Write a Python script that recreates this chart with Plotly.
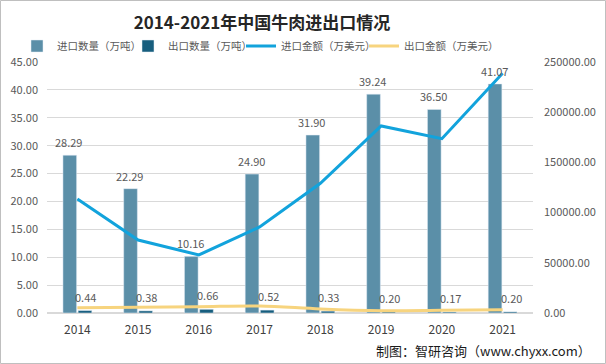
import plotly.graph_objects as go

years = ["2014", "2015", "2016", "2017", "2018", "2019", "2020", "2021"]
import_qty = [28.29, 22.29, 10.16, 24.90, 31.90, 39.24, 36.50, 41.07]
export_qty = [0.44, 0.38, 0.66, 0.52, 0.33, 0.20, 0.17, 0.20]
import_amt = [113500, 72700, 57800, 85700, 129200, 186300, 173600, 238700]
export_amt = [5300, 5700, 6300, 7000, 4000, 2300, 2700, 3300]

FONT = "Noto Sans CJK SC, Noto Sans, sans-serif"
LABEL = "#595959"

fig = go.Figure()
fig.add_bar(x=years, y=import_qty, name="进口数量（万吨）", marker_color="#5b8fa8",
            legend="legend", showlegend=True)
fig.add_bar(x=years, y=export_qty, name="出口数量（万吨）", marker_color="#175e7e",
            legend="legend2", showlegend=True)
fig.add_scatter(x=years, y=import_amt, name="进口金额（万美元）", yaxis="y2", mode="lines",
                line=dict(color="#12a3dc", width=3), legend="legend3", showlegend=True)
fig.add_scatter(x=years, y=export_amt, name="出口金额（万美元）", yaxis="y2", mode="lines",
                line=dict(color="#f7d47e", width=3, shape="spline"), legend="legend4",
                showlegend=True)

# data labels (category index positions)
for i, v in enumerate(import_qty):
    fig.add_annotation(x=i, y=v, xref="x", yref="y", text=f"{v:.2f}", showarrow=False,
                       xshift=-8.5, yshift=13, yanchor="middle",
                       font=dict(size=11, color=LABEL, family=FONT))
for i, v in enumerate(export_qty):
    fig.add_annotation(x=i, y=v, xref="x", yref="y", text=f"{v:.2f}", showarrow=False,
                       xshift=8.5, yshift=14, yanchor="middle",
                       font=dict(size=11, color=LABEL, family=FONT))

def leg(px):
    return dict(orientation="h", x=px/606, xanchor="left", xref="container",
                y=1 - 46/364, yanchor="middle", yref="container",
                font=dict(size=10.5, color=LABEL, family=FONT), itemwidth=30,
                bgcolor="rgba(0,0,0,0)", visible=True)

fig.update_layout(
    width=606, height=364, showlegend=True,
    margin=dict(l=47, r=73, t=62, b=51, autoexpand=False),
    paper_bgcolor="white", plot_bgcolor="white",
    font=dict(family=FONT, size=12, color=LABEL),
    title=dict(text="<b>2014-2021年中国牛肉进出口情况</b>", x=262/606, xanchor="center",
               xref="container", y=1 - 23/364, yanchor="middle", yref="container",
               font=dict(size=17, color="#262626", family=FONT)),
    barmode="group", bargap=0.5, bargroupgap=0.1,
    legend=leg(17), legend2=leg(128), legend3=leg(241), legend4=leg(364),
    xaxis=dict(type="category", range=[-0.5, 7.5], showgrid=False,
               tickfont=dict(size=12, color="#404040"), ticks="", showline=False,
               ticklabelstandoff=8),
    yaxis=dict(range=[0, 45], dtick=5, tickformat=".2f", showgrid=True, gridcolor="#d9d9d9",
               zeroline=True, zerolinecolor="#d9d9d9", tickfont=dict(size=11, color=LABEL),
               ticks="", ticklabelstandoff=8),
    yaxis2=dict(range=[0, 250000], dtick=50000, tickformat=".2f", overlaying="y", side="right",
                showgrid=False, zeroline=False, tickfont=dict(size=11, color=LABEL),
                ticks="", ticklabelstandoff=10),
)
fig.update_layout(shapes=[dict(type="rect", xref="x domain", yref="y domain",
                               x0=-46.5/486, x1=1+72.5/486, y0=-50.5/251, y1=1+61.5/251,
                               line=dict(color="#bfbfbf", width=1))])
fig.add_annotation(text="制图：智研咨询（www.chyxx.com）", xref="paper", yref="paper",
                   x=1 + 60/486, xanchor="right", y=-37/251, yanchor="middle", showarrow=False,
                   font=dict(size=13, color="#1a1a1a", family=FONT))

fig.write_html("out.html", config={"displayModeBar": False},
               post_script="document.body.style.margin='0px';")
